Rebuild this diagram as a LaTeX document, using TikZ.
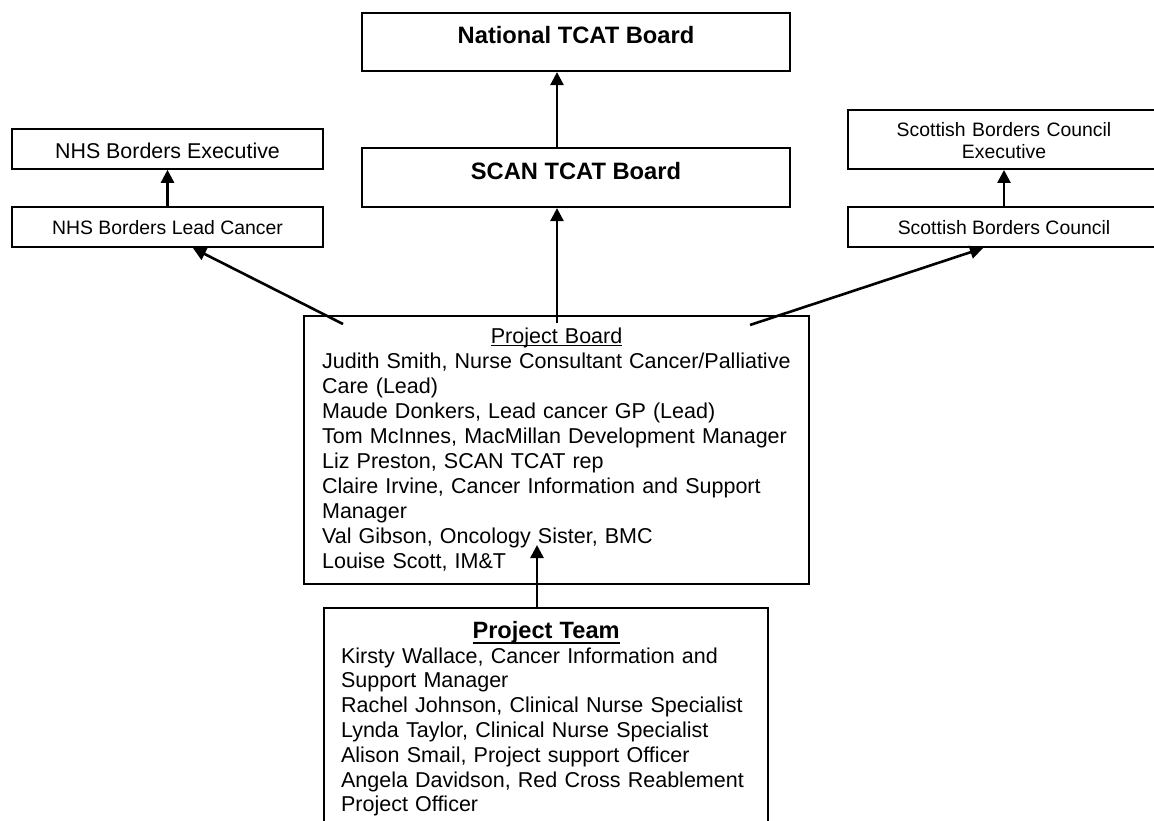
\documentclass[tikz,border=0pt]{standalone}
\usepackage{fontspec}
\setmainfont{Liberation Sans}
\usetikzlibrary{arrows.meta,calc}
\newcommand\myul[3]{\setbox0\hbox{#1}\rlap{\rule[-#2]{\wd0}{#3}}\box0}
\begin{document}
\begin{tikzpicture}[x=1pt,y=-1pt,
  box/.style={draw, line width=2.2pt, inner sep=0pt},
  arr/.style={line width=2.6pt, -{Triangle[length=13pt,width=13pt]}},
  fbig/.style={font=\bfseries\fontsize{23.7pt}{28pt}\selectfont},
  fsmall/.style={font=\fontsize{19.4pt}{21.6pt}\selectfont},
  fmid/.style={font=\fontsize{21.4pt}{25pt}\selectfont}]
\useasboundingbox (0,0) rectangle (1154,821);
\clip (0,0) rectangle (1154,821);
\fill[white] (0,0) rectangle (1154,821);

% top boards
\node[box, fbig, minimum width=428pt, minimum height=58pt, text height=20pt, text depth=16pt] (nat) at (576,42) {National TCAT Board};
\node[box, fbig, minimum width=428pt, minimum height=59pt, text height=20pt, text depth=15pt] (scan) at (576,177.5) {SCAN TCAT Board};

% NHS side
\node[box, fmid, minimum width=311pt, minimum height=39.4pt, text height=21pt, text depth=2pt] (nex) at (167.5,149) {NHS Borders Executive};
\node[box, fsmall, minimum width=311pt, minimum height=40pt, text height=18pt, text depth=2pt] (nlc) at (167.5,227) {NHS Borders Lead Cancer};

% Council side
\node[box, fsmall, minimum width=312pt, minimum height=58.7pt, text width=290pt, align=center] (sce) at (1004,139.5)
  {\rule{0pt}{18pt}Scottish Borders Council\\Executive\rule[-2pt]{0pt}{2pt}};
\node[box, fsmall, minimum width=312pt, minimum height=40pt, text height=18pt, text depth=2pt] (scc) at (1004,227) {Scottish Borders Council};

% Project Board
\node[box, anchor=north west, text width=469pt, inner xsep=18pt, inner ysep=8pt, align=left,
      font=\fontsize{21.5pt}{25pt}\selectfont] (pb) at (303,315)
  {\noindent\makebox[\hsize][c]{\rule{0pt}{19pt}\myul{Project Board}{3pt}{1.3pt}}\\
   Judith Smith, Nurse Consultant Cancer/Palliative\\
   Care (Lead)\\
   Maude Donkers, Lead cancer GP (Lead)\\
   Tom McInnes, MacMillan Development Manager\\
   Liz Preston, SCAN TCAT rep\\
   Claire Irvine, Cancer Information and Support\\
   Manager\\
   Val Gibson, Oncology Sister, BMC\\
   Louise Scott, IM\&T\rule[-8pt]{0pt}{8pt}};

% Project Team
\node[box, anchor=north west, text width=410pt, inner xsep=17pt, inner ysep=13pt, align=left,
      font=\fontsize{21.5pt}{24.8pt}\selectfont] (pt) at (323,607)
  {\noindent\makebox[\hsize][c]{\rule{0pt}{17pt}\bfseries\fontsize{23.6pt}{24.8pt}\selectfont\myul{Project Team}{5.5pt}{2pt}}\\
   Kirsty Wallace, Cancer Information and\\
   Support Manager\\
   Rachel Johnson, Clinical Nurse Specialist\\
   Lynda Taylor, Clinical Nurse Specialist\\
   Alison Smail, Project support Officer\\
   Angela Davidson, Red Cross Reablement\\
   Project Officer\rule[-15pt]{0pt}{15pt}};

% connector end points
\coordinate (pbL) at ($(pb.north west)+(40,9)$);
\coordinate (pbR) at ($(pb.north west)+(447,10)$);
\coordinate (pbT) at ($(pb.north west)+(254,8)$);
\coordinate (pbIn) at ($(pb.north west)+(234,230)$);

% connectors
\draw[arr] (scan.north -| pbT) -- (nat.south -| pbT);
\draw[arr] (pbT) -- (scan.south -| pbT);
\draw[arr] (nlc.north) -- (nex.south);
\draw[arr] (scc.north) -- (sce.south);
\draw[arr] (pbL) -- ($(nlc.south)+(25.5,0)$);
\draw[arr] (pbR) -- ($(scc.south)+(-21,0)$);
\draw[arr] (pt.north -| pbIn) -- (pbIn);
\end{tikzpicture}
\end{document}
